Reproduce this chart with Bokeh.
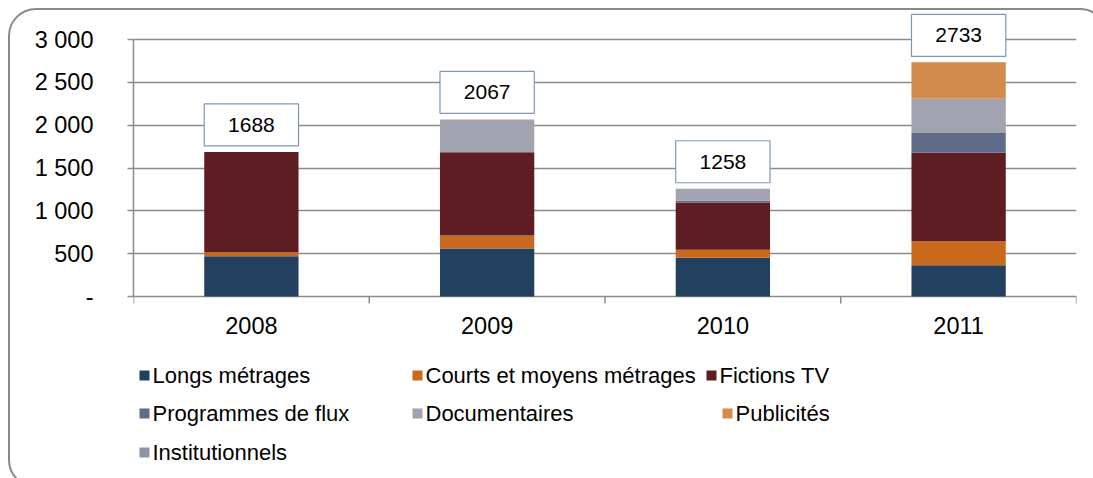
from bokeh.plotting import figure
from bokeh.models import FixedTicker, Range1d, ColumnDataSource
from bokeh.embed import file_html
from bokeh.resources import INLINE
from bokeh.core.properties import value

# ---- data ----
years = ["2008", "2009", "2010", "2011"]
series = ["Longs métrages", "Courts et moyens métrages", "Fictions TV",
          "Programmes de flux", "Documentaires", "Publicités", "Institutionnels"]
longs = [470, 560, 451, 365]
courts = [47, 152, 94, 280]
fictions = [1171, 972, 552, 1032]
flux = [0, 0, 20, 233]
docs = [0, 383, 141, 397]
pubs = [0, 0, 0, 426]
instit = [0, 0, 0, 0]
totals = [1688, 2067, 1258, 2733]
colors = ["#24405F", "#C9691E", "#5E1D22", "#5F6B88", "#A1A3B1", "#D38A4B", "#8D95A3"]
y_ticks = [0, 500, 1000, 1500, 2000, 2500, 3000]
y_tick_labels = ["-", "500", "1 000", "1 500", "2 000", "2 500", "3 000"]

FONT = "Liberation Sans"
GRID = "#8C8C8C"

# ---- layout (pixels in the 1093x478 page) ----
W, H = 1093, 478
FRAME_L, FRAME_R, FRAME_T = 133, 1076, 4
ZERO_PX, TOP_PX = 296, 39            # pixel rows of value 0 and 3000
UNIT = (ZERO_PX - TOP_PX) / 3000.0   # px per data unit
n = len(years)
SLOT = (FRAME_R - FRAME_L) / n


def dx(px):
    return (px - FRAME_L) / SLOT


def dy(py):
    return (ZERO_PX - py) / UNIT


x_pos = [i + 0.5 for i in range(n)]
keys = ["s%d" % i for i in range(len(series))]
data = dict(x=x_pos)
for k, vals in zip(keys, [longs, courts, fictions, flux, docs, pubs, instit]):
    data[k] = vals
src = ColumnDataSource(data)

border_svg = ("url(\"data:image/svg+xml;utf8,<svg xmlns='http://www.w3.org/2000/svg' "
              "width='1093' height='478'><rect x='9' y='9' width='1098' height='478' rx='27' "
              "fill='none' stroke='%238A8A8A' stroke-width='2'/></svg>\")")

p = figure(width=W, height=H, output_backend="svg", toolbar_location=None,
           x_range=Range1d(0, n), y_range=Range1d(dy(H), dy(FRAME_T)),
           x_axis_location=None,
           min_border_left=FRAME_L, min_border_right=W - FRAME_R,
           min_border_top=FRAME_T, min_border_bottom=0)
p.outline_line_color = None
p.border_fill_color = None
p.background_fill_color = None
p.styles = {"background-image": border_svg, "background-repeat": "no-repeat"}

renderers = p.vbar_stack(keys, x="x", width=0.4, color=colors, line_color=None, source=src)

# y axis
ya = p.yaxis[0]
ya.ticker = FixedTicker(ticks=y_ticks)
ya.major_label_overrides = {t: l for t, l in zip(y_ticks, y_tick_labels)}
ya.bounds = (0, 3000)
ya.major_tick_out = 6
ya.major_tick_in = 0
ya.minor_tick_line_color = None
ya.axis_line_color = GRID
ya.axis_line_width = 1.5
ya.major_tick_line_color = GRID
ya.major_tick_line_width = 1.5
ya.major_label_standoff = 34
ya.major_label_text_font = FONT
ya.major_label_text_font_size = "23.5px"
ya.major_label_text_color = "black"

p.xgrid.grid_line_color = None
p.ygrid.ticker = FixedTicker(ticks=y_ticks)
p.ygrid.grid_line_color = GRID
p.ygrid.grid_line_width = 1.5

# x axis ticks at category boundaries and year labels
b = list(range(n + 1))
p.segment(x0=b, y0=[0] * len(b), x1=b, y1=[dy(ZERO_PX + 7)] * len(b),
          line_color=GRID, line_width=1.5)
p.text(x=x_pos, y=[dy(325)] * n, text=years, text_align="center", text_baseline="middle",
       text_font=value(FONT), text_font_size="23.5px", text_color="black")

# value label boxes
lab_src = ColumnDataSource(dict(x=x_pos, y=[t + 315 for t in totals], t=[str(t) for t in totals]))
p.rect(x="x", y="y", width=0.4, height=42, height_units="screen", fill_color="white",
       line_color="#7F97B0", line_width=1.2, source=lab_src)
p.text(x="x", y="y", text="t", text_align="center", text_baseline="middle",
       text_font=value(FONT), text_font_size="21px", text_color="black", source=lab_src)

# legend (Excel-like placement)
leg_left = [139, 412, 706, 139, 412, 722, 139]
leg_row = [375, 375, 375, 413, 413, 413, 452]
p.rect(x=[dx(l + 5) for l in leg_left], y=[dy(r) for r in leg_row], width=10, height=10,
       width_units="screen", height_units="screen", fill_color=colors, line_color=None)
p.text(x=[dx(l + 13) for l in leg_left], y=[dy(r) for r in leg_row], text=series,
       text_align="left", text_baseline="middle",
       text_font=value(FONT), text_font_size="22px", text_color="black")

open("out.html", "w").write(file_html(p, INLINE))
